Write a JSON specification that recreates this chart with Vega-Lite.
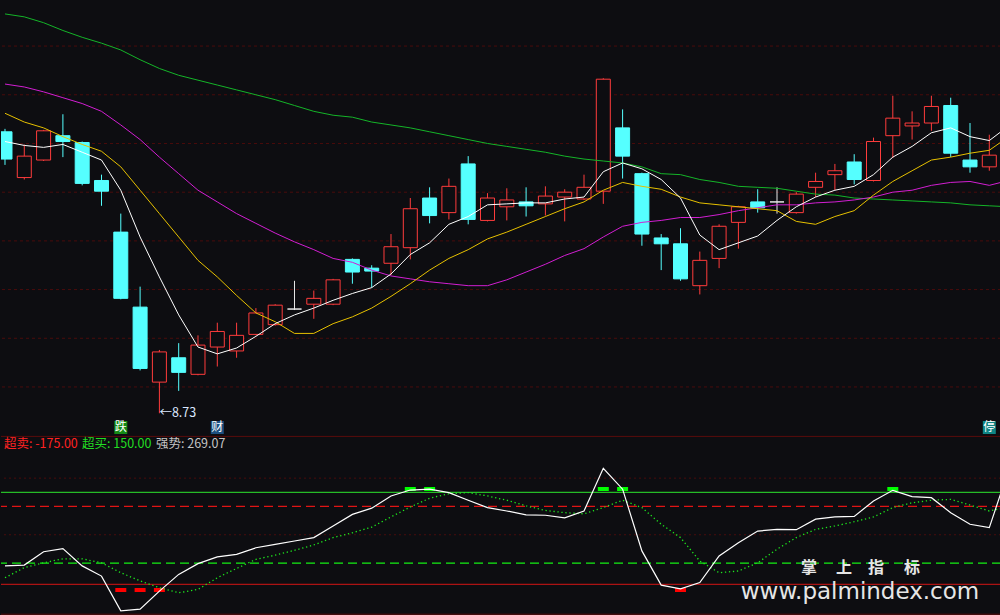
{
  "$schema": "https://vega.github.io/schema/vega-lite/v6.json",
  "background": "#0d0d11",
  "padding": 0,
  "spacing": 0,
  "config": {"view": {"stroke": null}, "text": {"font": "Noto Sans CJK SC"}, "scale": {"continuousPadding": 0}},
  "datasets": {
    "k": [
      {"i":0,"o":11.62,"h":11.65,"l":11.28,"c":11.34,"ma5":11.52,"ma10":11.81,"ma30":12.11,"ma60":12.83,"ind":-110,"avg":-152},
      {"i":1,"o":11.15,"h":11.49,"l":11.13,"c":11.37,"ma5":11.48,"ma10":11.72,"ma30":12.08,"ma60":12.80,"ind":-107,"avg":-116},
      {"i":2,"o":11.33,"h":11.64,"l":11.32,"c":11.63,"ma5":11.46,"ma10":11.66,"ma30":12.03,"ma60":12.74,"ind":-60,"avg":-99},
      {"i":3,"o":11.58,"h":11.80,"l":11.36,"c":11.52,"ma5":11.49,"ma10":11.57,"ma30":11.97,"ma60":12.66,"ind":-49,"avg":-85},
      {"i":4,"o":11.51,"h":11.52,"l":11.07,"c":11.09,"ma5":11.41,"ma10":11.49,"ma30":11.91,"ma60":12.59,"ind":-110,"avg":-85},
      {"i":5,"o":11.12,"h":11.18,"l":10.86,"c":11.01,"ma5":11.33,"ma10":11.42,"ma30":11.83,"ma60":12.53,"ind":-146,"avg":-99},
      {"i":6,"o":10.59,"h":10.78,"l":9.90,"c":9.91,"ma5":11.02,"ma10":11.26,"ma30":11.69,"ma60":12.46,"ind":-269,"avg":-134},
      {"i":7,"o":9.82,"h":10.03,"l":9.17,"c":9.19,"ma5":10.54,"ma10":11.02,"ma30":11.54,"ma60":12.36,"ind":-263,"avg":-163},
      {"i":8,"o":9.05,"h":9.38,"l":8.73,"c":9.36,"ma5":10.13,"ma10":10.78,"ma30":11.36,"ma60":12.27,"ind":-199,"avg":-187},
      {"i":9,"o":9.30,"h":9.45,"l":8.96,"c":9.15,"ma5":9.74,"ma10":10.54,"ma30":11.19,"ma60":12.20,"ind":-140,"avg":-205},
      {"i":10,"o":9.13,"h":9.53,"l":9.12,"c":9.43,"ma5":9.41,"ma10":10.30,"ma30":11.02,"ma60":12.15,"ind":-102,"avg":-193},
      {"i":11,"o":9.41,"h":9.66,"l":9.21,"c":9.57,"ma5":9.34,"ma10":10.13,"ma30":10.90,"ma60":12.10,"ind":-78,"avg":-152},
      {"i":12,"o":9.37,"h":9.66,"l":9.30,"c":9.53,"ma5":9.40,"ma10":9.94,"ma30":10.78,"ma60":12.05,"ind":-69,"avg":-119},
      {"i":13,"o":9.54,"h":9.81,"l":9.53,"c":9.76,"ma5":9.52,"ma10":9.76,"ma30":10.68,"ma60":12.00,"ind":-46,"avg":-87},
      {"i":14,"o":9.64,"h":9.85,"l":9.63,"c":9.84,"ma5":9.65,"ma10":9.67,"ma30":10.58,"ma60":11.95,"ind":-34,"avg":-72},
      {"i":15,"o":9.80,"h":10.09,"l":9.79,"c":9.80,"ma5":9.74,"ma10":9.55,"ma30":10.49,"ma60":11.89,"ind":-22,"avg":-55},
      {"i":16,"o":9.85,"h":9.99,"l":9.70,"c":9.91,"ma5":9.81,"ma10":9.55,"ma30":10.41,"ma60":11.83,"ind":-10,"avg":-36},
      {"i":17,"o":9.85,"h":10.11,"l":9.84,"c":10.10,"ma5":9.89,"ma10":9.65,"ma30":10.32,"ma60":11.79,"ind":31,"avg":-10},
      {"i":18,"o":10.31,"h":10.32,"l":10.06,"c":10.18,"ma5":9.96,"ma10":9.72,"ma30":10.28,"ma60":11.77,"ind":72,"avg":7},
      {"i":19,"o":10.22,"h":10.25,"l":10.02,"c":10.19,"ma5":10.02,"ma10":9.81,"ma30":10.20,"ma60":11.72,"ind":94,"avg":27},
      {"i":20,"o":10.27,"h":10.57,"l":10.15,"c":10.44,"ma5":10.16,"ma10":9.93,"ma30":10.14,"ma60":11.69,"ind":137,"avg":63},
      {"i":21,"o":10.43,"h":10.94,"l":10.31,"c":10.83,"ma5":10.36,"ma10":10.06,"ma30":10.11,"ma60":11.66,"ind":158,"avg":98},
      {"i":22,"o":10.94,"h":11.05,"l":10.68,"c":10.76,"ma5":10.48,"ma10":10.20,"ma30":10.08,"ma60":11.62,"ind":161,"avg":129},
      {"i":23,"o":10.79,"h":11.14,"l":10.72,"c":11.06,"ma5":10.67,"ma10":10.32,"ma30":10.06,"ma60":11.58,"ind":149,"avg":145},
      {"i":24,"o":11.29,"h":11.37,"l":10.67,"c":10.72,"ma5":10.75,"ma10":10.41,"ma30":10.04,"ma60":11.54,"ind":122,"avg":149},
      {"i":25,"o":10.71,"h":10.99,"l":10.70,"c":10.94,"ma5":10.87,"ma10":10.52,"ma30":10.04,"ma60":11.50,"ind":96,"avg":137},
      {"i":26,"o":10.85,"h":11.04,"l":10.71,"c":10.92,"ma5":10.88,"ma10":10.59,"ma30":10.10,"ma60":11.47,"ind":84,"avg":122},
      {"i":27,"o":10.90,"h":11.05,"l":10.75,"c":10.86,"ma5":10.89,"ma10":10.67,"ma30":10.18,"ma60":11.44,"ind":70,"avg":102},
      {"i":28,"o":10.88,"h":11.06,"l":10.76,"c":10.96,"ma5":10.89,"ma10":10.75,"ma30":10.26,"ma60":11.41,"ind":69,"avg":86},
      {"i":29,"o":10.95,"h":11.03,"l":10.70,"c":11.00,"ma5":10.93,"ma10":10.83,"ma30":10.35,"ma60":11.37,"ind":60,"avg":78},
      {"i":30,"o":10.93,"h":11.18,"l":10.92,"c":11.05,"ma5":10.95,"ma10":10.90,"ma30":10.42,"ma60":11.34,"ind":84,"avg":74},
      {"i":31,"o":11.01,"h":12.17,"l":10.88,"c":12.16,"ma5":11.21,"ma10":11.02,"ma30":10.54,"ma60":11.32,"ind":235,"avg":96},
      {"i":32,"o":11.66,"h":11.85,"l":11.14,"c":11.37,"ma5":11.30,"ma10":11.10,"ma30":10.65,"ma60":11.30,"ind":161,"avg":122},
      {"i":33,"o":11.19,"h":11.20,"l":10.45,"c":10.57,"ma5":11.24,"ma10":11.06,"ma30":10.69,"ma60":11.26,"ind":-57,"avg":96},
      {"i":34,"o":10.53,"h":10.57,"l":10.20,"c":10.47,"ma5":11.13,"ma10":11.03,"ma30":10.71,"ma60":11.19,"ind":-178,"avg":37},
      {"i":35,"o":10.47,"h":10.63,"l":10.09,"c":10.11,"ma5":10.94,"ma10":10.95,"ma30":10.74,"ma60":11.18,"ind":-191,"avg":-10},
      {"i":36,"o":10.04,"h":10.39,"l":9.95,"c":10.30,"ma5":10.56,"ma10":10.89,"ma30":10.74,"ma60":11.13,"ind":-169,"avg":-93},
      {"i":37,"o":10.32,"h":10.67,"l":10.22,"c":10.65,"ma5":10.41,"ma10":10.87,"ma30":10.77,"ma60":11.10,"ind":-75,"avg":-134},
      {"i":38,"o":10.69,"h":10.86,"l":10.42,"c":10.85,"ma5":10.48,"ma10":10.85,"ma30":10.81,"ma60":11.06,"ind":-28,"avg":-128},
      {"i":39,"o":10.90,"h":11.03,"l":10.79,"c":10.84,"ma5":10.55,"ma10":10.83,"ma30":10.84,"ma60":11.05,"ind":13,"avg":-99},
      {"i":40,"o":10.90,"h":11.05,"l":10.78,"c":10.90,"ma5":10.71,"ma10":10.81,"ma30":10.87,"ma60":11.04,"ind":19,"avg":-51},
      {"i":41,"o":10.79,"h":11.00,"l":10.78,"c":10.98,"ma5":10.85,"ma10":10.70,"ma30":10.87,"ma60":11.01,"ind":18,"avg":-10},
      {"i":42,"o":11.05,"h":11.20,"l":10.95,"c":11.11,"ma5":10.95,"ma10":10.67,"ma30":10.89,"ma60":10.98,"ind":55,"avg":19},
      {"i":43,"o":11.18,"h":11.29,"l":11.02,"c":11.22,"ma5":11.02,"ma10":10.75,"ma30":10.90,"ma60":10.97,"ind":63,"avg":31},
      {"i":44,"o":11.31,"h":11.39,"l":11.08,"c":11.13,"ma5":11.06,"ma10":10.81,"ma30":10.92,"ma60":10.94,"ind":65,"avg":46},
      {"i":45,"o":11.12,"h":11.56,"l":11.11,"c":11.52,"ma5":11.18,"ma10":10.97,"ma30":10.95,"ma60":10.93,"ind":119,"avg":63},
      {"i":46,"o":11.58,"h":11.99,"l":11.35,"c":11.76,"ma5":11.36,"ma10":11.11,"ma30":11.00,"ma60":10.92,"ind":157,"avg":96},
      {"i":47,"o":11.68,"h":11.83,"l":11.54,"c":11.71,"ma5":11.47,"ma10":11.22,"ma30":11.02,"ma60":10.91,"ind":135,"avg":113},
      {"i":48,"o":11.71,"h":11.99,"l":11.63,"c":11.88,"ma5":11.61,"ma10":11.33,"ma30":11.07,"ma60":10.90,"ind":131,"avg":122},
      {"i":49,"o":11.89,"h":11.97,"l":11.36,"c":11.40,"ma5":11.66,"ma10":11.36,"ma30":11.10,"ma60":10.89,"ind":78,"avg":125},
      {"i":50,"o":11.33,"h":11.71,"l":11.20,"c":11.26,"ma5":11.57,"ma10":11.40,"ma30":11.11,"ma60":10.87,"ind":37,"avg":105},
      {"i":51,"o":11.26,"h":11.59,"l":11.22,"c":11.38,"ma5":11.53,"ma10":11.43,"ma30":11.07,"ma60":10.86,"ind":25,"avg":84},
      {"i":52,"ma5":11.68,"ma10":11.57,"ma30":11.12,"ma60":10.85,"ind":229,"avg":97}
    ],
    "sig": [
      {"i":6,"s":"sell"},{"i":7,"s":"sell"},{"i":8,"s":"sell"},{"i":35,"s":"sell"},
      {"i":21,"s":"buy"},{"i":22,"s":"buy"},{"i":31,"s":"buy"},{"i":32,"s":"buy"},{"i":46,"s":"buy"}
    ]
  },
  "vconcat": [
    {
      "width": 1000,
      "height": 435,
      "layer": [
        {
          "data": {"values": [{"p":9},{"p":9.5},{"p":10},{"p":10.5},{"p":11},{"p":11.5},{"p":12},{"p":12.5}]},
          "mark": {"type": "rule", "stroke": "#4a0c0c", "strokeDash": [3, 3], "strokeWidth": 1},
          "encoding": {
            "y": {"field": "p", "type": "quantitative", "scale": {"domain": [8.507, 12.973], "nice": false, "zero": false}, "axis": null}
          }
        },
        {
          "data": {"name": "k"},
          "transform": [{"filter": {"field": "o", "valid": true}}],
          "mark": {"type": "rule", "strokeWidth": 1, "clip": true},
          "encoding": {
            "x": {"field": "i", "type": "quantitative", "scale": {"domain": [-0.207, 51.606], "nice": false, "zero": false, "padding": 0}, "axis": null},
            "y": {"field": "h", "type": "quantitative", "scale": {"domain": [8.507, 12.973], "nice": false, "zero": false}, "axis": null},
            "y2": {"field": "l"},
            "stroke": {"condition": [{"test": "datum.c > datum.o", "value": "#ff3c3c"}, {"test": "datum.c == datum.o", "value": "#e8e8e8"}], "value": "#55ffff"}
          }
        },
        {
          "data": {"name": "k"},
          "transform": [{"filter": {"field": "o", "valid": true}}],
          "mark": {"type": "bar", "width": 14, "strokeWidth": 1, "clip": true},
          "encoding": {
            "x": {"field": "i", "type": "quantitative", "scale": {"domain": [-0.207, 51.606], "nice": false, "zero": false, "padding": 0}, "axis": null},
            "y": {"field": "o", "type": "quantitative", "scale": {"domain": [8.507, 12.973], "nice": false, "zero": false}, "axis": null},
            "y2": {"field": "c"},
            "fill": {"condition": {"test": "datum.c >= datum.o", "value": "#0d0d11"}, "value": "#55ffff"},
            "stroke": {"condition": [{"test": "datum.c > datum.o", "value": "#ff3c3c"}, {"test": "datum.c == datum.o", "value": "#e8e8e8"}], "value": "#55ffff"}
          }
        },
        {
          "data": {"name": "k"},
          "mark": {"type": "line", "stroke": "#14b428", "strokeWidth": 1, "clip": true},
          "encoding": {
            "x": {"field": "i", "type": "quantitative", "scale": {"domain": [-0.207, 51.606], "nice": false, "zero": false, "padding": 0}, "axis": null},
            "y": {"field": "ma60", "type": "quantitative", "scale": {"domain": [8.507, 12.973], "nice": false, "zero": false}, "axis": null}
          }
        },
        {
          "data": {"name": "k"},
          "mark": {"type": "line", "stroke": "#d21ed2", "strokeWidth": 1, "clip": true},
          "encoding": {
            "x": {"field": "i", "type": "quantitative", "scale": {"domain": [-0.207, 51.606], "nice": false, "zero": false, "padding": 0}, "axis": null},
            "y": {"field": "ma30", "type": "quantitative", "scale": {"domain": [8.507, 12.973], "nice": false, "zero": false}, "axis": null}
          }
        },
        {
          "data": {"name": "k"},
          "mark": {"type": "line", "stroke": "#e6c000", "strokeWidth": 1, "clip": true},
          "encoding": {
            "x": {"field": "i", "type": "quantitative", "scale": {"domain": [-0.207, 51.606], "nice": false, "zero": false, "padding": 0}, "axis": null},
            "y": {"field": "ma10", "type": "quantitative", "scale": {"domain": [8.507, 12.973], "nice": false, "zero": false}, "axis": null}
          }
        },
        {
          "data": {"name": "k"},
          "mark": {"type": "line", "stroke": "#ffffff", "strokeWidth": 1, "clip": true},
          "encoding": {
            "x": {"field": "i", "type": "quantitative", "scale": {"domain": [-0.207, 51.606], "nice": false, "zero": false, "padding": 0}, "axis": null},
            "y": {"field": "ma5", "type": "quantitative", "scale": {"domain": [8.507, 12.973], "nice": false, "zero": false}, "axis": null}
          }
        },
        {
          "data": {"values": [{"i": 8, "p": 8.73, "t": "←8.73"}]},
          "mark": {"type": "text", "align": "left", "baseline": "middle", "fontSize": 12.5, "fill": "#dce8ff"},
          "encoding": {
            "x": {"field": "i", "type": "quantitative", "scale": {"domain": [-0.207, 51.606], "nice": false, "zero": false, "padding": 0}, "axis": null},
            "y": {"field": "p", "type": "quantitative", "scale": {"domain": [8.507, 12.973], "nice": false, "zero": false}, "axis": null},
            "text": {"field": "t"}
          }
        },
        {
          "data": {"values": [{"i": 6, "t": "跌"}, {"i": 11, "t": "财"}, {"i": 51, "t": "停"}]},
          "mark": {"type": "bar", "width": 13},
          "encoding": {
            "x": {"field": "i", "type": "quantitative", "scale": {"domain": [-0.207, 51.606], "nice": false, "zero": false, "padding": 0}, "axis": null},
            "y": {"datum": 8.517, "type": "quantitative", "scale": {"domain": [8.507, 12.973], "nice": false, "zero": false}, "axis": null},
            "y2": {"datum": 8.651},
            "fill": {"field": "t", "type": "nominal", "scale": {"domain": ["跌", "财", "停"], "range": ["#158a15", "#1d4f80", "#0f8585"]}, "legend": null}
          }
        },
        {
          "data": {"values": [{"i": 6, "t": "跌"}, {"i": 11, "t": "财"}, {"i": 51, "t": "停"}]},
          "mark": {"type": "text", "align": "center", "baseline": "middle", "fontSize": 12, "fill": "#ffffff"},
          "encoding": {
            "x": {"field": "i", "type": "quantitative", "scale": {"domain": [-0.207, 51.606], "nice": false, "zero": false, "padding": 0}, "axis": null},
            "y": {"datum": 8.587, "type": "quantitative", "scale": {"domain": [8.507, 12.973], "nice": false, "zero": false}, "axis": null},
            "text": {"field": "t"}
          }
        }
      ]
    },
    {
      "width": 1000,
      "height": 180,
      "layer": [
        {
          "data": {"values": [{}]},
          "mark": {"type": "rule", "stroke": "#5a0c0c", "strokeWidth": 1},
          "encoding": {"y": {"datum": 347.5, "type": "quantitative", "scale": {"domain": [-287, 348.9], "nice": false, "zero": false}, "axis": null}}
        },
        {
          "data": {"values": [{}]},
          "mark": {"type": "rule", "stroke": "#5a0c0c", "strokeWidth": 1},
          "encoding": {"y": {"datum": -280.6, "type": "quantitative", "scale": {"domain": [-287, 348.9], "nice": false, "zero": false}, "axis": null}}
        },
        {
          "data": {"values": [{}]},
          "mark": {"type": "rule", "stroke": "#4a0c0c", "strokeDash": [2, 3], "strokeWidth": 1},
          "encoding": {"y": {"datum": 200, "type": "quantitative", "scale": {"domain": [-287, 348.9], "nice": false, "zero": false}, "axis": null}}
        },
        {
          "data": {"values": [{}]},
          "mark": {"type": "rule", "stroke": "#4a0c0c", "strokeDash": [2, 3], "strokeWidth": 1},
          "encoding": {"y": {"datum": 0, "type": "quantitative", "scale": {"domain": [-287, 348.9], "nice": false, "zero": false}, "axis": null}}
        },
        {
          "data": {"values": [{}]},
          "mark": {"type": "rule", "stroke": "#2ee82e", "strokeWidth": 1},
          "encoding": {"y": {"datum": 150, "type": "quantitative", "scale": {"domain": [-287, 348.9], "nice": false, "zero": false}, "axis": null}}
        },
        {
          "data": {"values": [{}]},
          "mark": {"type": "rule", "stroke": "#e01414", "strokeDash": [9, 5], "strokeWidth": 1.2},
          "encoding": {"y": {"datum": 100, "type": "quantitative", "scale": {"domain": [-287, 348.9], "nice": false, "zero": false}, "axis": null}}
        },
        {
          "data": {"values": [{}]},
          "mark": {"type": "rule", "stroke": "#14f014", "strokeDash": [9, 5], "strokeWidth": 1.2},
          "encoding": {"y": {"datum": -100, "type": "quantitative", "scale": {"domain": [-287, 348.9], "nice": false, "zero": false}, "axis": null}}
        },
        {
          "data": {"values": [{}]},
          "mark": {"type": "rule", "stroke": "#d41414", "strokeWidth": 1},
          "encoding": {"y": {"datum": -175, "type": "quantitative", "scale": {"domain": [-287, 348.9], "nice": false, "zero": false}, "axis": null}}
        },
        {
          "data": {"name": "sig"},
          "transform": [{"filter": "datum.s == 'buy'"}],
          "mark": {"type": "bar", "width": 11, "fill": "#00ff00"},
          "encoding": {
            "x": {"field": "i", "type": "quantitative", "scale": {"domain": [-0.207, 51.606], "nice": false, "zero": false, "padding": 0}, "axis": null},
            "y": {"datum": 154.6, "type": "quantitative", "scale": {"domain": [-287, 348.9], "nice": false, "zero": false}, "axis": null},
            "y2": {"datum": 168.7}
          }
        },
        {
          "data": {"name": "sig"},
          "transform": [{"filter": "datum.s == 'sell'"}],
          "mark": {"type": "bar", "width": 11, "fill": "#ff0000"},
          "encoding": {
            "x": {"field": "i", "type": "quantitative", "scale": {"domain": [-0.207, 51.606], "nice": false, "zero": false, "padding": 0}, "axis": null},
            "y": {"datum": -188.1, "type": "quantitative", "scale": {"domain": [-287, 348.9], "nice": false, "zero": false}, "axis": null},
            "y2": {"datum": -202.2}
          }
        },
        {
          "data": {"name": "k"},
          "mark": {"type": "line", "stroke": "#1ee81e", "strokeWidth": 1.3, "strokeDash": [1.3, 2.7], "clip": true},
          "encoding": {
            "x": {"field": "i", "type": "quantitative", "scale": {"domain": [-0.207, 51.606], "nice": false, "zero": false, "padding": 0}, "axis": null},
            "y": {"field": "avg", "type": "quantitative", "scale": {"domain": [-287, 348.9], "nice": false, "zero": false}, "axis": null}
          }
        },
        {
          "data": {"name": "k"},
          "mark": {"type": "line", "stroke": "#ffffff", "strokeWidth": 1.2, "clip": true},
          "encoding": {
            "x": {"field": "i", "type": "quantitative", "scale": {"domain": [-0.207, 51.606], "nice": false, "zero": false, "padding": 0}, "axis": null},
            "y": {"field": "ind", "type": "quantitative", "scale": {"domain": [-287, 348.9], "nice": false, "zero": false}, "axis": null}
          }
        },
        {
          "data": {"values": [{}]},
          "mark": {"type": "text", "align": "left", "baseline": "middle", "fontSize": 12.5, "fill": "#ff2222"},
          "encoding": {
            "x": {"datum": -0.052, "type": "quantitative", "scale": {"domain": [-0.207, 51.606], "nice": false, "zero": false, "padding": 0}, "axis": null},
            "y": {"datum": 320, "type": "quantitative", "scale": {"domain": [-287, 348.9], "nice": false, "zero": false}, "axis": null},
            "text": {"value": "超卖: -175.00"}
          }
        },
        {
          "data": {"values": [{}]},
          "mark": {"type": "text", "align": "left", "baseline": "middle", "fontSize": 12.5, "fill": "#22dd22"},
          "encoding": {
            "x": {"datum": 3.99, "type": "quantitative", "scale": {"domain": [-0.207, 51.606], "nice": false, "zero": false, "padding": 0}, "axis": null},
            "y": {"datum": 320, "type": "quantitative", "scale": {"domain": [-287, 348.9], "nice": false, "zero": false}, "axis": null},
            "text": {"value": "超买: 150.00"}
          }
        },
        {
          "data": {"values": [{}]},
          "mark": {"type": "text", "align": "left", "baseline": "middle", "fontSize": 12.5, "fill": "#c4c4c4"},
          "encoding": {
            "x": {"datum": 7.82, "type": "quantitative", "scale": {"domain": [-0.207, 51.606], "nice": false, "zero": false, "padding": 0}, "axis": null},
            "y": {"datum": 320, "type": "quantitative", "scale": {"domain": [-287, 348.9], "nice": false, "zero": false}, "axis": null},
            "text": {"value": "强势: 269.07"}
          }
        },
        {
          "data": {"values": [{"x": 41.66, "t": "掌"}, {"x": 43.47, "t": "上"}, {"x": 45.13, "t": "指"}, {"x": 46.99, "t": "标"}]},
          "mark": {"type": "text", "align": "center", "baseline": "middle", "fontSize": 16, "fontWeight": "bold", "fill": "#e6e6e6"},
          "encoding": {
            "x": {"field": "x", "type": "quantitative", "scale": {"domain": [-0.207, 51.606], "nice": false, "zero": false, "padding": 0}, "axis": null},
            "y": {"datum": -118, "type": "quantitative", "scale": {"domain": [-287, 348.9], "nice": false, "zero": false}, "axis": null},
            "text": {"field": "t"}
          }
        },
        {
          "data": {"values": [{}]},
          "mark": {"type": "text", "align": "center", "baseline": "alphabetic", "fontSize": 23, "font": "DejaVu Sans", "fill": "#e6e6e6"},
          "encoding": {
            "x": {"datum": 44.3, "type": "quantitative", "scale": {"domain": [-0.207, 51.606], "nice": false, "zero": false, "padding": 0}, "axis": null},
            "y": {"datum": -227, "type": "quantitative", "scale": {"domain": [-287, 348.9], "nice": false, "zero": false}, "axis": null},
            "text": {"value": "www.palmindex.com"}
          }
        }
      ]
    }
  ]
}
